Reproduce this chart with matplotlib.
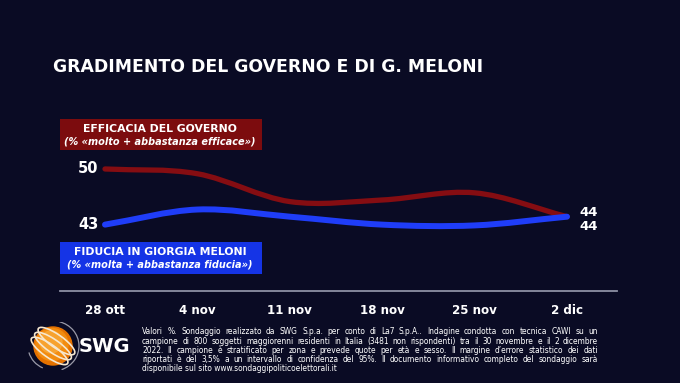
import matplotlib
matplotlib.use("Agg")
import matplotlib.pyplot as plt
import numpy as np
from matplotlib.path import Path
from matplotlib.patches import PathPatch, Circle, Arc, Rectangle

# data
weeks = ['28 ott', '4 nov', '11 nov', '18 nov', '25 nov', '2 dic']
efficacia = [50, 49.4, 45.9, 46.1, 47.0, 44]
fiducia = [43, 44.9, 44.0, 43.0, 42.9, 44]
start_labels = ['50', '43']
end_labels = ['44', '44']

footnote = [
    "Valori %. Sondaggio realizzato da SWG S.p.a. per conto di La7 S.p.A.. Indagine condotta con tecnica CAWI su un",
    "campione di 800 soggetti maggiorenni residenti in Italia (3481 non rispondenti) tra il 30 novembre e il 2 dicembre",
    "2022. Il campione è stratificato per zona e prevede quote per età e sesso. Il margine d\u2019errore statistico dei dati",
    "riportati è del 3,5% a un intervallo di confidenza del 95%. Il documento informativo completo del sondaggio sarà",
    "disponibile sul sito www.sondaggipoliticoelettorali.it",
]

BG = '#0a0b24'
RED = '#850d12'
RED_BOX = '#7c0c0e'
BLUE = '#1f3df8'
BLUE_BOX = '#1534e6'
W, H = 680, 383


def px(x, y):
    # pixel position -> figure fraction
    return x / W, 1 - y / H


def smooth_path(xs, ys):
    # catmull-rom style bezier through the points
    pts = np.column_stack([xs, ys]).astype(float)
    n = len(pts)
    tang = np.zeros_like(pts)
    for i in range(n):
        a = pts[max(i - 1, 0)]
        b = pts[min(i + 1, n - 1)]
        tang[i] = (b - a) / (2 if 0 < i < n - 1 else 1)
    verts = [pts[0]]
    codes = [Path.MOVETO]
    for i in range(n - 1):
        verts += [pts[i] + tang[i] / 3, pts[i + 1] - tang[i + 1] / 3, pts[i + 1]]
        codes += [Path.CURVE4] * 3
    return Path(verts, codes)


fig = plt.figure(figsize=(6.8, 3.83), dpi=100, facecolor=BG)

# chart area: x axis line from 60 to 617 px, y=291 px
l, b = px(60, 291)
r, t = px(617, 110)
ax = fig.add_axes([l, b, r - l, t - b])
ax.set_facecolor(BG)
ax.set_xlim(-0.487, 5.541)
ax.set_ylim(34.65, 57.42)
for s in ['top', 'right', 'left']:
    ax.spines[s].set_visible(False)
ax.spines['bottom'].set_color('#8d90a4')
ax.spines['bottom'].set_linewidth(1.3)
ax.set_yticks([])
ax.set_xticks(range(len(weeks)))
ax.set_xticklabels(weeks, color='white', fontsize=8.6, fontweight='bold')
ax.tick_params(axis='x', length=0, pad=9)

x = np.arange(len(weeks))
ax.add_patch(PathPatch(smooth_path(x, efficacia), fill=False, edgecolor=RED, lw=3.8, capstyle='round', zorder=3))
ax.add_patch(PathPatch(smooth_path(x, fiducia), fill=False, edgecolor=BLUE, lw=4.3, capstyle='round', zorder=4))

# value labels at the ends
ax.annotate(start_labels[0], (x[0], efficacia[0]), xytext=(-4.5, 0), textcoords='offset points',
            ha='right', va='center', color='white', fontsize=10.5, fontweight='bold')
ax.annotate(start_labels[1], (x[0], fiducia[0]), xytext=(-4.5, 0), textcoords='offset points',
            ha='right', va='center', color='white', fontsize=10.5, fontweight='bold')
ax.annotate(end_labels[0], (x[-1], efficacia[-1]), xytext=(9, 3), textcoords='offset points',
            ha='left', va='center', color='white', fontsize=9.5, fontweight='bold')
ax.annotate(end_labels[1], (x[-1], fiducia[-1]), xytext=(9, -7), textcoords='offset points',
            ha='left', va='center', color='white', fontsize=9.5, fontweight='bold')

# title
fig.text(*px(53, 67), "GRADIMENTO DEL GOVERNO E DI G. MELONI", color='white', fontsize=12.45,
         fontweight='bold', ha='left', va='center')

# legend boxes
for (y0, y1, col, head, sub) in [
    (119, 150, RED_BOX, "EFFICACIA DEL GOVERNO", "(% \u00abmolto + abbastanza efficace\u00bb)"),
    (242, 274, BLUE_BOX, "FIDUCIA IN GIORGIA MELONI", "(% \u00abmolta + abbastanza fiducia\u00bb)"),
]:
    bx, by = px(60, y1)
    fig.patches.append(Rectangle((bx, by), 202 / W, (y1 - y0) / H, transform=fig.transFigure,
                                 facecolor=col, edgecolor='none', zorder=1))
    fig.text(*px(160, y0 + 10), head, color='white', fontsize=7.8, fontweight='bold',
             ha='center', va='center')
    fig.text(*px(160, y0 + 22.5), sub, color='white', fontsize=7.0, fontweight='bold',
             style='italic', ha='center', va='center')

# SWG logo (pixel-like coords inside a small axes, y down)
lax = fig.add_axes([px(26, 370)[0], px(26, 370)[1], 110 / W, 48 / H])
lax.set_xlim(0, 110)
lax.set_ylim(48, 0)
lax.set_aspect('equal')
lax.axis('off')
cx, cy = 27, 24
lax.add_patch(Circle((cx, cy), 19, color='#e57200'))
lax.add_patch(Circle((cx - 1, cy - 1.5), 16, color='#f28c10'))
lax.add_patch(Circle((cx - 2, cy - 4), 11, color='#f9a838', alpha=0.8))
# outer thin swooshes
lax.add_patch(Arc((cx, cy), 52, 50, angle=0, theta1=-75, theta2=70, color='#9a9aa8', lw=0.9))
lax.add_patch(Arc((cx, cy), 50, 48, angle=0, theta1=115, theta2=165, color='#9a9aa8', lw=0.9))
# rings around the sphere
for off in [-6, 0, 6]:
    ox = -np.sin(np.radians(35)) * off
    oy = np.cos(np.radians(35)) * off
    lax.add_patch(Arc((cx + ox, cy + oy), 44, 13, angle=35, theta1=0, theta2=360,
                      color='#f6e7cf', lw=1.2))
lax.text(53, 25, "SWG", color='white', fontsize=14, fontweight='bold', ha='left', va='center')

# footnote, justified between 142 and 598 px
renderer = fig.canvas.get_renderer()
x_left, x_right = 142, 598
FN = dict(color='white', fontsize=5.45, ha='left', va='center')
for i, line in enumerate(footnote):
    fy = px(0, 332 + i * 9.1)[1]
    if i == len(footnote) - 1:
        fig.text(x_left / W, fy, line, **FN)
        continue
    words = line.split(' ')
    texts = [fig.text(0, fy, w_, **FN) for w_ in words]
    widths = [tx.get_window_extent(renderer).width for tx in texts]
    gap = (x_right - x_left - sum(widths)) / (len(words) - 1)
    cur = x_left
    for tx, wd in zip(texts, widths):
        tx.set_x(cur / W)
        cur += wd + gap

fig.savefig('out.png', dpi=100, facecolor=BG)
